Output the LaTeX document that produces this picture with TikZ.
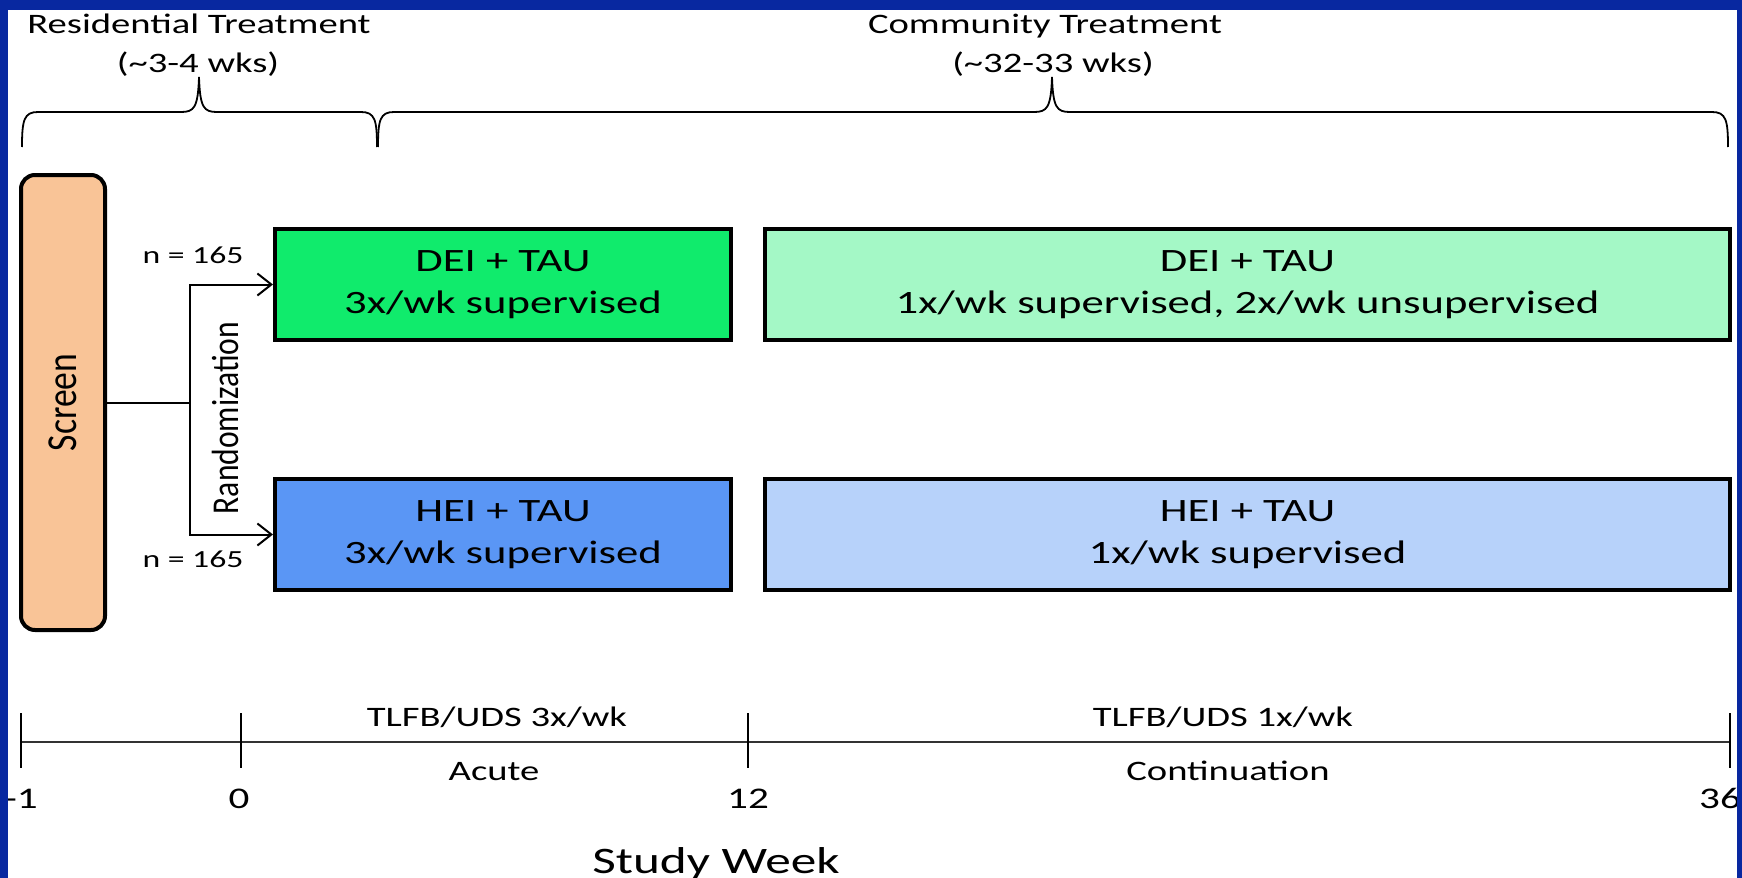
\documentclass[tikz,border=0pt]{standalone}
\usepackage{fontspec}
\usepackage{graphicx}
\setmainfont[FakeStretch=1.37]{Carlito}
\newfontfamily\rotfont{Carlito}
\usetikzlibrary{arrows.meta}

\definecolor{framecolor}{RGB}{8, 40, 160}
\definecolor{screencolor}{RGB}{249, 196, 151}
\definecolor{deicolor}{RGB}{16, 235, 108}
\definecolor{deilight}{RGB}{164, 248, 198}
\definecolor{heicolor}{RGB}{90, 150, 245}
\definecolor{heilight}{RGB}{183, 210, 250}

\begin{document}
\begin{tikzpicture}[x=0.5pt, y=-0.5pt,
    armbox/.style={draw=black, line width=2pt, minimum height=55.5pt, inner sep=0pt,
        align=center, font=\fontsize{16.3}{21}\selectfont},
    txt/.style={anchor=base, font=\fontsize{14.1}{17}\selectfont},
    link/.style={line width=1pt},
    brace/.style={line width=0.9pt}]
    \useasboundingbox (0,0) rectangle (1742,878);
    \fill[white] (0,0) rectangle (1742,878);

    % Phases en haut
    \node[txt] (resTitle) at (199,33) {Residential Treatment};
    \node[txt] (resWeeks) at (198,72) {(\textasciitilde 3-4 wks)};
    \node[txt] (comTitle) at (1045,33) {Community Treatment};
    \node[txt] (comWeeks) at (1053,72) {(\textasciitilde 32-33 wks)};
    \draw[brace] (22,147) .. controls (22,120) and (24,112) .. (38,112) -- (181,112)
        .. controls (194,112) and (198,108) .. (199,77) .. controls (200,108) and (204,112) .. (217,112)
        -- (361,112) .. controls (375,112) and (377,120) .. (377,147);
    \draw[brace] (378,147) .. controls (378,120) and (380,112) .. (394,112) -- (1034,112)
        .. controls (1047,112) and (1051,108) .. (1052,77) .. controls (1053,108) and (1057,112) .. (1070,112)
        -- (1712,112) .. controls (1726,112) and (1728,120) .. (1728,147);

    % Screen et randomisation
    \node[draw=black, line width=2pt, fill=screencolor, rounded corners=7pt, inner sep=0pt,
        minimum width=42pt, minimum height=227.5pt] (screen) at (63,402.5)
        {\rotatebox{90}{\scalebox{1}[1.2]{\rotfont\fontsize{17.8}{20}\selectfont Screen}}};
    \node (rand) at (225,418)
        {\rotatebox{90}{\scalebox{1}[1.2]{\rotfont\fontsize{15.8}{18}\selectfont Randomization}}};
    \coordinate (split) at (190,402.5);

    % Bras de traitement
    \node[armbox, fill=deicolor, minimum width=228pt] (deiAcute) at (503,284.5)
        {DEI + TAU\\3x/wk supervised};
    \node[armbox, fill=heicolor, minimum width=228pt] (heiAcute) at (503,534.5)
        {HEI + TAU\\3x/wk supervised};
    \node[armbox, fill=deilight, minimum width=482.5pt] (deiCont) at (1247.5,284.5)
        {DEI + TAU\\1x/wk supervised, 2x/wk unsupervised};
    \node[armbox, fill=heilight, minimum width=482.5pt] (heiCont) at (1247.5,534.5)
        {HEI + TAU\\1x/wk supervised};

    \draw[link] (screen.east) -- (split);
    \draw[link, -{Straight Barb[length=7pt, width=11pt]}] (split) |- (deiAcute.west);
    \draw[link, -{Straight Barb[length=7pt, width=11pt]}] (split) |- (heiAcute.west);
    \node[anchor=base, font=\fontsize{12.3}{14}\selectfont] (nDei) at (193,263) {n = 165};
    \node[anchor=base, font=\fontsize{12.3}{14}\selectfont] (nHei) at (193,567) {n = 165};

    % Axe des semaines
    \coordinate (wkStart) at (21,742);
    \coordinate (wkEnd) at (1730,742);
    \draw[line width=1.2pt, black!80] (wkStart) -- (wkEnd);
    \foreach \x/\lx/\lab in {21/21/-1, 241/239/0, 748/748/12, 1730/1720/36} {
        \draw[line width=0.8pt] (\x,713) -- (\x,768);
        \node[anchor=base, font=\fontsize{15}{18}\selectfont] (tick\x) at (\lx,808) {\lab};
    }
    \node[txt] (dsAcute) at (497,726) {TLFB/UDS 3x/wk};
    \node[txt] (phAcute) at (494,780) {Acute};
    \node[txt] (dsCont) at (1223,726) {TLFB/UDS 1x/wk};
    \node[txt] (phCont) at (1228,780) {Continuation};
    \node[anchor=base, font=\fontsize{18.7}{22}\selectfont] (studyWeek) at (716,873) {Study Week};

    % Cadre bleu
    \fill[framecolor] (0,0) rectangle (1742,10);
    \fill[framecolor] (0,0) rectangle (8,878);
    \fill[framecolor] (1737,0) rectangle (1742,878);
\end{tikzpicture}
\end{document}
